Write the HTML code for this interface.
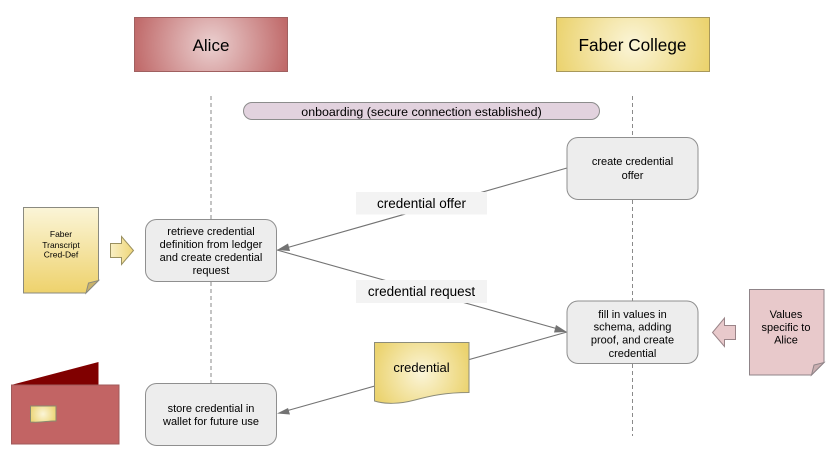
<!DOCTYPE html>
<html>
<head>
<meta charset="utf-8">
<style>
html,body{margin:0;padding:0;background:#fff;width:836px;height:465px;overflow:hidden}
svg{display:block;filter:blur(0.35px)}
text{font-family:"Liberation Sans",Arial,sans-serif;fill:#000;text-anchor:middle}
</style>
</head>
<body>
<svg width="836" height="465" viewBox="0 0 836 465" xmlns="http://www.w3.org/2000/svg">
<defs>
<radialGradient id="red" gradientUnits="userSpaceOnUse" cx="211" cy="44.500" r="78"><stop offset="0" stop-color="#ebd0d0"/><stop offset="1" stop-color="#c06a6a"/></radialGradient>
<radialGradient id="yel" gradientUnits="userSpaceOnUse" cx="632.500" cy="44.500" r="78"><stop offset="0" stop-color="#fbf5d8"/><stop offset="1" stop-color="#ebd36f"/></radialGradient>
<radialGradient id="yelc" gradientUnits="userSpaceOnUse" cx="421.500" cy="373" r="50"><stop offset="0" stop-color="#fbf5d8"/><stop offset="1" stop-color="#ebd36f"/></radialGradient>
<radialGradient id="yelk" gradientUnits="userSpaceOnUse" cx="43" cy="414" r="14"><stop offset="0" stop-color="#fbf5d8"/><stop offset="1" stop-color="#ebd36f"/></radialGradient>
<linearGradient id="yelv" x1="0" y1="0" x2="0" y2="1"><stop offset="0" stop-color="#fbf5d8"/><stop offset="1" stop-color="#eed26c"/></linearGradient>
<linearGradient id="yelh" x1="0" y1="0" x2="1" y2="0"><stop offset="0" stop-color="#f9efc4"/><stop offset="1" stop-color="#efd678"/></linearGradient>
</defs>

<rect x="134.500" y="17.500" width="153" height="54" fill="url(#red)" stroke="#a06060"/>
<text x="211" y="51" font-size="17">Alice</text>
<rect x="556.500" y="17.500" width="153" height="54" fill="url(#yel)" stroke="#a8985a"/>
<text x="632.500" y="51" font-size="17.200">Faber College</text>

<g stroke="#8a8a8a" stroke-width="1" stroke-dasharray="4 3" fill="none">
<line x1="211" y1="96" x2="211" y2="219"/>
<line x1="211" y1="282" x2="211" y2="383"/>
<line x1="632.500" y1="96" x2="632.500" y2="137"/>
<line x1="632.500" y1="200" x2="632.500" y2="301"/>
<line x1="632.500" y1="364" x2="632.500" y2="436"/>
</g>

<rect x="243.500" y="102.500" width="356" height="17" rx="8.500" fill="#e2d2de" stroke="#8c8c8c"/>
<text x="421.500" y="116" font-size="12.400">onboarding (secure connection established)</text>

<g stroke="#737373" stroke-width="1.100" fill="none">
<line x1="567" y1="168" x2="286" y2="248"/>
<line x1="277" y1="250" x2="558" y2="329"/>
<line x1="567" y1="332" x2="286" y2="411"/>
</g>
<g fill="#737373">
<polygon points="277,250 288,243.500 290,251"/>
<polygon points="567,332 556,325 554,332.500"/>
<polygon points="277,413.500 288,408 290,414.500"/>
</g>

<rect x="145.500" y="219.500" width="131" height="62" rx="11" fill="#ededed" stroke="#8f8f8f"/>
<g font-size="11">
<text x="211" y="235">retrieve credential</text>
<text x="211" y="248">definition from ledger</text>
<text x="211" y="261">and create credential</text>
<text x="211" y="274">request</text>
</g>

<rect x="145.500" y="383.500" width="131" height="62" rx="11" fill="#ededed" stroke="#8f8f8f"/>
<g font-size="11">
<text x="211" y="412">store credential in</text>
<text x="211" y="425">wallet for future use</text>
</g>

<rect x="567" y="137.500" width="131" height="62" rx="11" fill="#ededed" stroke="#8f8f8f"/>
<g font-size="11">
<text x="632.500" y="165">create credential</text>
<text x="632.500" y="179">offer</text>
</g>

<rect x="567" y="301" width="131" height="62.500" rx="11" fill="#ededed" stroke="#8f8f8f"/>
<g font-size="11">
<text x="632.500" y="318">fill in values in</text>
<text x="632.500" y="330.500">schema, adding</text>
<text x="632.500" y="343.500">proof, and create</text>
<text x="632.500" y="357">credential</text>
</g>

<rect x="356" y="192" width="131" height="22.500" fill="#f3f3f3"/>
<text x="421.500" y="208" font-size="13.500">credential offer</text>
<rect x="356" y="280" width="131" height="23" fill="#f3f3f3"/>
<text x="421.500" y="296" font-size="13.500">credential request</text>

<path d="M374.500 342.500H469V392.500C445 392.500 430 396 415 400C400 404 385 404.500 374.500 401Z" fill="url(#yelc)" stroke="#8c8c7a"/>
<text x="421.500" y="372" font-size="13">credential</text>

<path d="M23.500 207.500H98.500V280.500L86 293H23.500Z" fill="url(#yelv)" stroke="#8a8a80"/>
<path d="M86 293L88.500 283L98.500 280.500Z" fill="#c9b26a" stroke="#8a8a80"/>
<g font-size="8.500" font-weight="400">
<text x="61" y="237">Faber</text>
<text x="61" y="248">Transcript</text>
<text x="61" y="257.500">Cred-Def</text>
</g>

<polygon points="110.500,243.500 121.500,243.500 121.500,236.500 133.500,250.500 121.500,264.500 121.500,257.500 110.500,257.500" fill="url(#yelh)" stroke="#9a9060"/>

<path d="M749.500 289.500H824V362.500L811.500 375H749.500Z" fill="#e8c9cb" stroke="#8f8488"/>
<path d="M811.500 375L814 365L824 362.500Z" fill="#c9aeb0" stroke="#8f8488"/>
<g font-size="11">
<text x="786" y="318">Values</text>
<text x="786" y="331">specific to</text>
<text x="786" y="343.500">Alice</text>
</g>

<polygon points="735.500,325.500 724.500,325.500 724.500,318 712.500,332.500 724.500,346.500 724.500,339.500 735.500,339.500" fill="#e8c9cb" stroke="#9a8488"/>

<polygon points="11,385 98.500,362 98.500,385" fill="#800000"/>
<rect x="11.500" y="385" width="107.500" height="59" fill="#c26464" stroke="#a05a5a"/>
<path d="M30.500 406H56V421C48 420.500 42 423 30.500 422Z" fill="url(#yelk)" stroke="#8a8a70"/>
</svg>
</body>
</html>
